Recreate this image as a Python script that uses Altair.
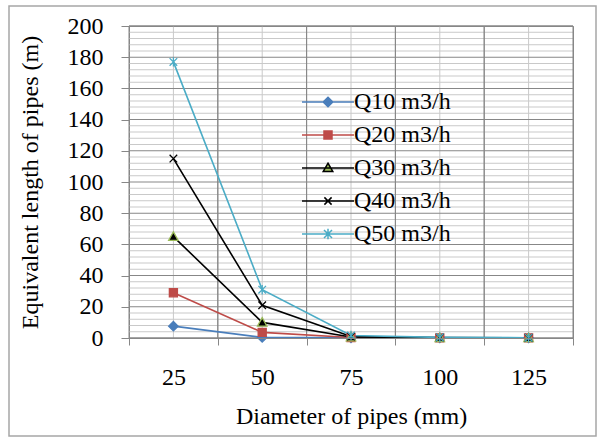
import altair as alt
import pandas as pd

# Pipe diameters (mm) on the category axis
diameters = ["25", "50", "75", "100", "125"]

# Flow-rate series
series = ["Q10 m3/h", "Q20 m3/h", "Q30 m3/h", "Q40 m3/h", "Q50 m3/h"]

# Equivalent length of pipes (m) for each series, by diameter
q10 = [7.6, 0.4, 0.1, 0.05, 0.03]
q20 = [29.0, 3.6, 0.3, 0.1, 0.05]
q30 = [65.0, 10.0, 0.6, 0.2, 0.1]
q40 = [115.0, 21.0, 1.0, 0.3, 0.1]
q50 = [177.0, 31.0, 1.6, 0.4, 0.2]

# value-axis ticks and gridlines
major_ticks = list(range(0, 201, 20))
minor_ticks = [v for v in range(0, 201, 4) if v % 20 != 0]

rows = []
for name, vals in zip(series, [q10, q20, q30, q40, q50]):
    for d, v in zip(diameters, vals):
        rows.append({"diameter": d, "series": name, "length": v})
df = pd.DataFrame(rows)
cats = pd.DataFrame({"diameter": diameters})
major_df = pd.DataFrame({"length": major_ticks})
minor_df = pd.DataFrame({"length": minor_ticks})
frame_df = pd.DataFrame({"k": [0]})

FONT = "Liberation Serif"
MAJOR = "#878787"
MINOR = "#c9c9c9"
HALF_LINE = 0.32  # half a gridline's thickness, in axis units

line_colors = ["#4A7EBB", "#BE4B48", "#000000", "#000000", "#4BACC6"]
mark_fills = ["#4A7EBB", "#BE4B48", "#000000", "#000000", "#4BACC6"]
mark_strokes = ["#4A7EBB", "#BE4B48", "#9BBB59", "#000000", "#4BACC6"]
leg_fills = ["#4A7EBB", "#BE4B48", "#9BBB59", "#000000", "#4BACC6"]
leg_strokes = ["#4A7EBB", "#BE4B48", "#000000", "#000000", "#4BACC6"]

# marker glyphs (unit square)
marker_paths = [
    "M0,-1L1,0L0,1L-1,0Z",
    "M-0.85,-0.85H0.85V0.85H-0.85Z",
    "M0,-1L1,0.8H-1Z",
    "M-0.8,-0.8L0.8,0.8M-0.8,0.8L0.8,-0.8",
    "M-0.8,-0.8L0.8,0.8M-0.8,0.8L0.8,-0.8M0,-1V1",
]

# legend glyphs: a line segment with the marker in the middle
seg = "M-3.25,0H3.25"
legend_paths = [
    seg + "M0,-0.6L0.6,0L0,0.6L-0.6,0Z",
    seg + "M-0.5,-0.5H0.5V0.5H-0.5Z",
    seg + "M0,-0.6L0.6,0.45H-0.6Z",
    seg + "M-0.45,-0.45L0.45,0.45M-0.45,0.45L0.45,-0.45",
    seg + "M-0.5,-0.5L0.5,0.5M-0.5,0.5L0.5,-0.5M0,-0.65V0.65",
]

x_axis = alt.Axis(
    title="Diameter of pipes (mm)",
    labelAngle=0,
    tickBand="extent",
    grid=False,
    domainColor=MAJOR,
    tickColor=MAJOR,
    tickSize=7,
    labelPadding=20,
    titlePadding=15,
)
y_axis = alt.Axis(
    title="Equivalent length of pipes (m)",
    values=major_ticks,
    grid=False,
    tickColor=MAJOR,
    tickSize=8,
    domainColor=MAJOR,
    labelPadding=18,
    titlePadding=25,
)
x_scale = alt.Scale(type="band", paddingInner=0, paddingOuter=0)
y_scale = alt.Scale(domain=[0, 200], nice=False)


def xenc(**kw):
    return alt.X("diameter:N", sort=diameters, scale=x_scale, axis=x_axis, **kw)


def yenc(field="length:Q"):
    return alt.Y(field, scale=y_scale, axis=y_axis)


def hgrid(data, color):
    # thin full-width band around each gridline value
    return (
        alt.Chart(data)
        .transform_calculate(lo=f"datum.length - {HALF_LINE}", hi=f"datum.length + {HALF_LINE}")
        .mark_rect(color=color)
        .encode(y=yenc("lo:Q"), y2="hi:Q")
    )


h_minor = hgrid(minor_df, MINOR)
h_major = hgrid(major_df, MAJOR)
# light line through each category centre
v_minor = alt.Chart(cats).mark_rect(color=MINOR).encode(
    x=xenc(bandPosition=0.4944), x2=alt.X2("diameter:N", bandPosition=0.5056)
)
# dark lines on the category boundaries
v_major = alt.Chart(cats).mark_rect(fill="transparent", stroke=MAJOR, strokeWidth=1).encode(
    x=xenc()
)

lines = alt.Chart(df).mark_line(strokeWidth=1.6).encode(
    x=xenc(),
    y=yenc(),
    color=alt.Color("series:N", sort=series,
                    scale=alt.Scale(domain=series, range=line_colors), legend=None),
)

markers = alt.Chart(df).mark_point(filled=True, size=90, strokeWidth=1.3, opacity=1).encode(
    x=xenc(),
    y=yenc(),
    shape=alt.Shape("series:N", scale=alt.Scale(domain=series, range=marker_paths), legend=None),
    fill=alt.Fill("series:N", scale=alt.Scale(domain=series, range=mark_fills), legend=None),
    stroke=alt.Stroke("series:N", scale=alt.Scale(domain=series, range=mark_strokes), legend=None),
)

legend = alt.Legend(
    title=None,
    orient="none",
    legendX=187,
    legendY=64,
    padding=0,
    symbolSize=256,
    symbolStrokeWidth=1.5,
    symbolOpacity=1,
    labelOffset=14,
    rowPadding=9,
    labelFont=FONT,
    labelFontSize=24,
    labelColor="#000000",
    labelLimit=0,
)
legend_layer = alt.Chart(df).mark_point(filled=True, opacity=0).encode(
    x=xenc(),
    y=yenc(),
    shape=alt.Shape("series:N", scale=alt.Scale(domain=series, range=legend_paths), legend=legend),
    fill=alt.Fill("series:N", scale=alt.Scale(domain=series, range=leg_fills), legend=legend),
    stroke=alt.Stroke("series:N", scale=alt.Scale(domain=series, range=leg_strokes), legend=legend),
)

# outer chart border
frame = alt.Chart(frame_df).mark_rect(fill="transparent", stroke="#a6a6a6", strokeWidth=1.5).encode(
    x=alt.value(-120), x2=alt.value(467), y=alt.value(-20), y2=alt.value(410)
)

chart = (
    alt.layer(h_minor, v_minor, h_major, v_major, lines, markers, legend_layer, frame)
    .resolve_scale(shape="independent", fill="independent", stroke="independent")
    .properties(
        width=444,
        height=312,
        padding={"left": 129, "top": 26, "right": 26, "bottom": 99},
        autosize=alt.AutoSizeParams(type="none"),
        background="#ffffff",
    )
    .configure_view(stroke=MAJOR)
    .configure_axis(
        labelFont=FONT,
        labelFontSize=24,
        labelColor="#000000",
        titleFont=FONT,
        titleFontSize=24,
        titleFontWeight="normal",
        titleColor="#000000",
    )
)

chart.save("out.html", embed_options={"renderer": "svg", "actions": False})
